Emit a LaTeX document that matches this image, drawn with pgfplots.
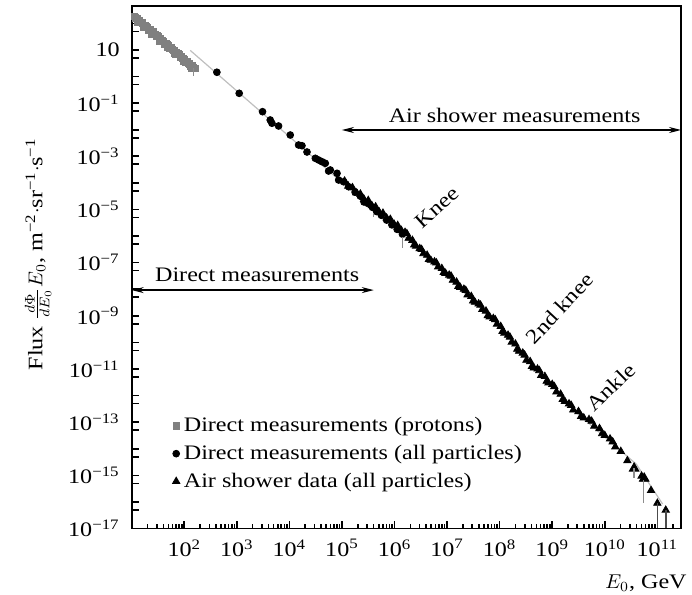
\documentclass[border=0pt]{standalone}
\usepackage{pgfplots}
\pgfplotsset{compat=1.18}
\usepackage{fontspec}
\setmainfont{Liberation Serif}[FakeStretch=1.17]
\usetikzlibrary{arrows.meta}

\begin{document}
\begin{tikzpicture}[font=\fontsize{10.3}{12}\selectfont]
\begin{axis}[
  width=274.6pt, height=261.2pt, scale only axis,
  xmode=log, ymode=log,
  xmin=10, xmax=2.818e11,
  ymin=1e-17, ymax=450,
  clip mode=individual,
  axis line style={line width=0.8pt},
  tick align=inside,
  xtick pos=left, ytick pos=left,
  major tick length=3.6pt, minor tick length=2pt,
  every tick/.style={black, line width=0.8pt},
  xtick={1e2,1e3,1e4,1e5,1e6,1e7,1e8,1e9,1e10,1e11},
  xticklabels={10\textsuperscript{2},10\textsuperscript{3},10\textsuperscript{4},10\textsuperscript{5},10\textsuperscript{6},10\textsuperscript{7},10\textsuperscript{8},10\textsuperscript{9},10\textsuperscript{10},10\textsuperscript{11}},
  minor xtick={2e1,3e1,4e1,5e1,6e1,7e1,8e1,9e1,
    2e2,3e2,4e2,5e2,6e2,7e2,8e2,9e2, 2e3,3e3,4e3,5e3,6e3,7e3,8e3,9e3,
    2e4,3e4,4e4,5e4,6e4,7e4,8e4,9e4, 2e5,3e5,4e5,5e5,6e5,7e5,8e5,9e5,
    2e6,3e6,4e6,5e6,6e6,7e6,8e6,9e6, 2e7,3e7,4e7,5e7,6e7,7e7,8e7,9e7,
    2e8,3e8,4e8,5e8,6e8,7e8,8e8,9e8, 2e9,3e9,4e9,5e9,6e9,7e9,8e9,9e9,
    2e10,3e10,4e10,5e10,6e10,7e10,8e10,9e10, 2e11},
  ytick={1e-17,1e-15,1e-13,1e-11,1e-9,1e-7,1e-5,1e-3,1e-1,1e1},
  yticklabels={10\textsuperscript{−17},10\textsuperscript{−15},10\textsuperscript{−13},10\textsuperscript{−11},10\textsuperscript{−9},10\textsuperscript{−7},10\textsuperscript{−5},10\textsuperscript{−3},10\textsuperscript{−1},10},
  extra y ticks={5e-17,5e-16,5e-15,5e-14,5e-13,5e-12,5e-11,5e-10,5e-9,5e-8,5e-7,5e-6,5e-5,5e-4,5e-3,5e-2,5e-1,5,5e1,
    1e-16,1e-14,1e-12,1e-10,1e-8,1e-6,1e-4,1e-2,1,1e2},
  extra y tick labels={},
  yticklabel style={xshift=-2.5pt},
  xticklabel style={yshift=-2pt},
  xlabel={$E_0$, GeV},
  xlabel style={at={(axis description cs:1.011,-0.1047)}, anchor=east, inner sep=0pt},
  ylabel={Flux $\frac{d\Phi}{dE_0}E_0$, m\textsuperscript{−2}$\cdot$sr\textsuperscript{−1}$\cdot$s\textsuperscript{−1}},
  ylabel style={at={(axis description cs:-0.1704,0.525)}, anchor=center},
  legend style={draw=none, fill=none, at={(0.07,0.225)}, anchor=north west,
    row sep=1.2pt, inner sep=1pt},
  legend cell align=left,
  legend image code/.code={\draw[mark repeat=2,mark phase=2,#1] plot coordinates {(0cm,0cm) (0.15cm,0cm) (0.3cm,0cm)};},
]
\coordinate (bl) at (rel axis cs:0,0);
\coordinate (tr) at (rel axis cs:1,1);

% thin fit line
\addplot[forget plot, color=black!25, line width=0.6pt] coordinates {
(130,9.6) (3.16e6,2.75e-7) (1e8,3.89e-10) (3.16e9,1.95e-13) (3.98e10,2.63e-15) (1.26e11,8.3e-17)};

% direct measurements, protons
\addplot[only marks, mark=square*, color=black!50, mark size=1.6pt] coordinates {
(11.2,185)(12.6,152)(14.1,125)(15.8,103)(17.8,84.5)(20.0,69.5)(22.4,57.1)(25.1,47.0)
(28.2,38.6)(31.6,31.8)(35.5,26.1)(39.8,21.5)(44.7,17.7)(50.1,14.5)(56.2,11.9)(63.1,9.82)
(70.8,8.07)(79.4,6.64)(89.1,5.46)(100,4.49)(112,3.69)(126,3.03)(141,2.49)(158,2.05)
(11.9,160)(13.3,122)(15.0,108)(16.8,82)(18.8,73)(21.1,55)(23.7,49)(26.6,37.5)
(29.9,33.5)(33.5,25.2)(37.6,22.6)(42.2,17.0)(47.3,15.3)(53.1,11.5)(59.6,10.4)(66.8,7.8)
(75.0,7.0)(84.1,5.3)(94.4,4.75)(106,3.55)(119,3.2)(133,2.4)(150,2.15)
(13,112)(17,72)(24,40)(34,22.2)(48,12.4)(68,6.8)(95,3.86)(135,2.13)};
\addlegendentry{Direct measurements (protons)}

% direct measurements, all particles
\addplot[only marks, mark=*, color=black, mark size=1.7pt] coordinates {
(417,1.45)(1109,0.234)(3083,4.76e-2)(4315,2.32e-2)(4656,1.75e-2)(6223,1.38e-2)
(1.038e4,6.32e-3)(1.496e4,2.66e-3)(1.734e4,2.50e-3)(2.163e4,1.45e-3)(3.112e4,8.40e-4)
(3.597e4,7.24e-4)(4.169e4,6.25e-4)(4.819e4,5.45e-4)(5.572e4,2.79e-4)(5.998e4,3.05e-4)
(8.054e4,2.29e-4)(8.650e4,1.28e-4)(1.076e5,1.10e-4)(1.340e5,7.16e-5)(1.778e5,4.47e-5)
(2.239e5,3.16e-5)(2.630e5,1.91e-5)(3.162e5,1.66e-5)(3.802e5,1.20e-5)(4.571e5,8.32e-6)
(5.623e5,6.03e-6)(7.079e5,3.98e-6)(8.913e5,2.63e-6)(1.122e6,1.78e-6)(1.413e6,1.18e-6)};
\addlegendentry{Direct measurements (all particles)}

% air shower data
\addplot[only marks, mark=triangle*, color=black, mark size=2.1pt] coordinates {
(1.122e5,1.175e-4)(1.318e5,7.586e-5)(1.585e5,6.607e-5)(1.905e5,4.169e-5)(2.239e5,3.802e-5)
(2.630e5,2.399e-5)(3.162e5,2.188e-5)(3.715e5,1.380e-5)(4.365e5,1.259e-5)(5.129e5,7.943e-6)
(6.026e5,7.244e-6)(7.079e5,4.786e-6)(8.318e5,4.266e-6)(9.772e5,2.818e-6)(1.148e6,2.512e-6)
(1.349e6,1.622e-6)(1.585e6,1.380e-6)(1.862e6,8.318e-7)(2.188e6,6.918e-7)(2.570e6,4.169e-7)
(3.020e6,3.388e-7)(3.548e6,2.188e-7)(4.169e6,1.905e-7)(4.898e6,1.230e-7)(5.754e6,1.072e-7)
(6.761e6,6.918e-8)(7.943e6,6.026e-8)(9.333e6,3.981e-8)(1.096e7,3.388e-8)(1.288e7,2.188e-8)
(1.514e7,1.862e-8)(1.778e7,1.175e-8)(2.089e7,1.000e-8)(2.455e7,6.166e-9)(2.884e7,5.370e-9)
(3.388e7,3.236e-9)(3.981e7,2.818e-9)(4.677e7,1.738e-9)(5.495e7,1.514e-9)(6.457e7,9.120e-10)
(7.586e7,7.943e-10)(8.913e7,4.898e-10)(1.047e8,3.981e-10)(1.230e8,2.239e-10)(1.445e8,1.862e-10)
(1.698e8,1.023e-10)(1.995e8,8.710e-11)(2.344e8,4.677e-11)(2.754e8,3.981e-11)(3.236e8,2.138e-11)
(3.802e8,1.905e-11)(4.467e8,1.096e-11)(5.248e8,1.000e-11)(6.166e8,5.754e-12)(7.244e8,5.248e-12)
(8.511e8,3.020e-12)(1.000e9,2.630e-12)(1.202e9,1.380e-12)(1.445e9,1.122e-12)(1.738e9,6.026e-13)
(2.089e9,4.898e-13)(2.512e9,2.884e-13)(3.162e9,2.512e-13)(3.981e9,1.445e-13)(5.012e9,1.259e-13)
(6.310e9,7.079e-14)(7.943e9,5.754e-14)(1.000e10,3.162e-14)(1.259e10,2.344e-14)(1.585e10,1.175e-14)
(2.018e10,7.943e-15)(2.692e10,3.548e-15)(3.614e10,1.820e-15)(5.012e10,9.333e-16)(5.623e10,7.586e-16)
(7.586e10,2.692e-16)(1.000e11,8.913e-17)(1.445e11,4.898e-17)};
\addlegendentry{Air shower data (all particles)}

% air shower data, second set
\addplot[forget plot, only marks, mark=triangle*, color=black, mark size=2.1pt] coordinates {
(1.718e6,1.230e-6)(2.371e6,4.677e-7)(3.273e6,3.126e-7)(4.519e6,1.334e-7)(6.237e6,9.886e-8)
(8.610e6,4.266e-8)(1.189e7,3.126e-8)(1.641e7,1.288e-8)(2.265e7,9.016e-9)(3.126e7,3.631e-9)
(4.315e7,2.541e-9)(5.957e7,1.023e-9)(8.222e7,7.161e-10)(1.135e8,2.600e-10)(1.567e8,1.585e-10)
(2.163e8,5.559e-11)(2.985e8,3.350e-11)(4.121e8,1.259e-11)(5.689e8,8.710e-12)(7.852e8,3.467e-12)
(1.096e9,2.188e-12)(1.585e9,7.161e-13)(2.291e9,4.315e-13)(3.548e9,1.660e-13)(5.623e9,1.084e-13)
(8.913e9,3.715e-14)(1.413e10,1.820e-14)};
\addplot[forget plot, only marks, mark=triangle*, color=black, mark size=2.8pt] coordinates {
(3.614e10,1.820e-15)(5.623e10,7.586e-16)};

% error bars
\addplot[forget plot, color=black!45, line width=0.7pt] coordinates {(149,2.09) (149,1.05)};
\addplot[forget plot, color=black!45, line width=0.7pt] coordinates {(4.02e5,7.4e-6) (4.02e5,5.0e-6)};
\addplot[forget plot, color=black!45, line width=0.7pt] coordinates {(1.40e6,9.3e-7) (1.40e6,3.5e-7)};
\addplot[forget plot, color=black!45, line width=0.7pt] coordinates {(3.614e10,1.82e-15) (3.614e10,8.0e-16)};
\addplot[forget plot, color=black!45, line width=0.7pt] coordinates {(5.46e10,6.5e-16) (5.46e10,8.9e-17)};
\addplot[forget plot, color=black!70, line width=0.8pt] coordinates {(1.01e11,8.9e-17) (1.01e11,1e-17)};
\addplot[forget plot, color=black!70, line width=0.8pt] coordinates {(1.445e11,4.9e-17) (1.445e11,1e-17)};

% ranges
\draw[{Stealth[length=6pt,width=3pt]}-{Stealth[length=6pt,width=3pt]}, line width=0.6pt]
  (axis cs:1e5,9.75e-3) -- (axis cs:2.818e11,9.75e-3);
\node[anchor=base, yshift=3.5pt] at (axis cs:1.93e8,9.75e-3) {Air shower measurements};
\draw[{Stealth[length=6pt,width=3pt]}-{Stealth[length=6pt,width=3pt]}, line width=0.6pt]
  (axis cs:10,9.27e-9) -- (axis cs:4.02e5,9.27e-9);
\node[anchor=base, yshift=4.5pt] at (axis cs:2.44e3,9.27e-9) {Direct measurements};

\node[rotate=42] at (axis cs:6.5e6,1.2e-5) {Knee};
\node[rotate=47] at (axis cs:1.39e9,1.9e-9) {2nd knee};
\node[rotate=44] at (axis cs:1.30e10,2.1e-12) {Ankle};
\end{axis}
\pgfresetboundingbox
\path[use as bounding box] ([shift={(-65.85pt,-32.85pt)}]bl) rectangle ([shift={(5.5pt,3pt)}]tr);
\end{tikzpicture}
\end{document}
